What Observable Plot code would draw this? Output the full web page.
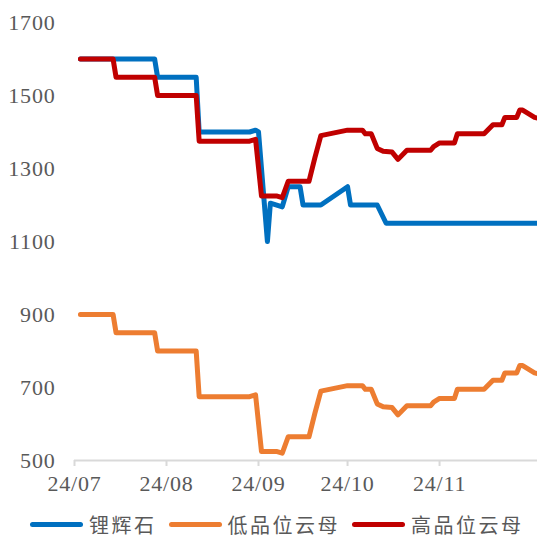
<!DOCTYPE html>
<html>
<head>
<meta charset="utf-8">
<script src="https://cdn.jsdelivr.net/npm/d3@7"></script>
<script src="https://cdn.jsdelivr.net/npm/@observablehq/plot@0.6"></script>
<style>
  body { margin: 0; background: #fff; width: 537px; overflow: hidden; }
  #legend { display: flex; align-items: center; height: 38px; padding-left: 30px;
    font-family: "Noto Sans CJK SC", sans-serif; font-size: 20px; color: #595959; }
  .sw { display: inline-block; width: 53px; height: 5px; border-radius: 3px; }
  .lab { margin-left: 6px; margin-right: 12px; letter-spacing: 2.5px; }
  svg text { letter-spacing: 0.8px; }
</style>
</head>
<body>
<div id="chart"></div>
<div id="legend"></div>
<script>
const seriesNames = ["锂辉石", "低品位云母", "高品位云母"];
const seriesColors = ["#0070C0", "#ED7D31", "#C00000"];
const xTickLabels = ["24/07", "24/08", "24/09", "24/10", "24/11"];
const xTickDates = ["2024-07-01", "2024-08-01", "2024-09-01", "2024-10-01", "2024-11-01"];
const yTicks = [500, 700, 900, 1100, 1300, 1500, 1700];

const spodDates = ["2024-07-03","2024-07-28","2024-07-29","2024-08-11","2024-08-12","2024-08-29","2024-08-31","2024-09-01","2024-09-04","2024-09-05","2024-09-09","2024-09-11","2024-09-15","2024-09-16","2024-09-22","2024-10-01","2024-10-02","2024-10-11","2024-10-14","2024-12-04"];
const spodValues = [1600,1600,1550,1550,1400,1400,1405,1400,1100,1205,1195,1250,1250,1200,1200,1250,1200,1200,1150,1150];

const micaDates = ["2024-07-03","2024-07-14","2024-07-15","2024-07-28","2024-07-29","2024-08-11","2024-08-12","2024-08-29","2024-08-31","2024-09-02","2024-09-07","2024-09-09","2024-09-11","2024-09-18","2024-09-20","2024-09-22","2024-10-01","2024-10-06","2024-10-07","2024-10-09","2024-10-11","2024-10-13","2024-10-16","2024-10-18","2024-10-21","2024-10-29","2024-10-30","2024-11-01","2024-11-06","2024-11-07","2024-11-16","2024-11-19","2024-11-22","2024-11-23","2024-11-27","2024-11-28","2024-11-29","2024-12-03","2024-12-04"];
const lowMicaValues = [900,900,850,850,800,800,675,675,680,525,525,520,565,565,630,690,705,705,695,695,655,647,645,625,650,650,660,670,670,695,695,720,720,740,740,760,760,740,738];
const highMicaValues = [1600,1600,1550,1550,1500,1500,1375,1375,1380,1225,1225,1220,1265,1265,1330,1390,1405,1405,1395,1395,1355,1347,1345,1325,1350,1350,1360,1370,1370,1395,1395,1420,1420,1440,1440,1460,1460,1440,1438];

const parse = d3.utcParse("%Y-%m-%d");
const rows = [];
spodDates.forEach((d, i) => rows.push({series: seriesNames[0], date: parse(d), value: spodValues[i]}));
micaDates.forEach((d, i) => rows.push({series: seriesNames[1], date: parse(d), value: lowMicaValues[i]}));
micaDates.forEach((d, i) => rows.push({series: seriesNames[2], date: parse(d), value: highMicaValues[i]}));

const tickDates = xTickDates.map(parse);
const labelOf = new Map(tickDates.map((d, i) => [+d, xTickLabels[i]]));

const chart = Plot.plot({
  width: 537,
  height: 505,
  marginTop: 22,
  marginBottom: 45,
  marginLeft: 74,
  marginRight: 0,
  style: {fontFamily: "'Liberation Serif', serif", fontSize: "22px", color: "#595959", background: "#fff", overflow: "visible"},
  x: {type: "utc", domain: [parse("2024-07-01"), parse("2024-12-04")], label: null},
  y: {domain: [500, 1700], label: null},
  color: {domain: seriesNames, range: seriesColors},
  marks: [
    Plot.ruleY([500], {stroke: "#d9d9d9", strokeWidth: 2}),
    Plot.axisX({ticks: tickDates, tickFormat: d => labelOf.get(+d), tickSize: 6, tickPadding: 9, stroke: "#d9d9d9", strokeWidth: 2, fill: "#595959", fontSize: 22, label: null}),
    Plot.axisY({ticks: yTicks, tickFormat: d => String(d), tickSize: 0, tickPadding: 19, fill: "#595959", fontSize: 22, label: null}),
    Plot.line(rows, {x: "date", y: "value", z: "series", stroke: "series", strokeWidth: 5, strokeLinejoin: "round", strokeLinecap: "round", curve: "linear"})
  ]
});
document.getElementById("chart").appendChild(chart);

const legend = document.getElementById("legend");
seriesNames.forEach((name, i) => {
  const sw = document.createElement("span");
  sw.className = "sw";
  sw.style.background = seriesColors[i];
  const lab = document.createElement("span");
  lab.className = "lab";
  lab.textContent = name;
  legend.appendChild(sw);
  legend.appendChild(lab);
});
</script>
</body>
</html>
